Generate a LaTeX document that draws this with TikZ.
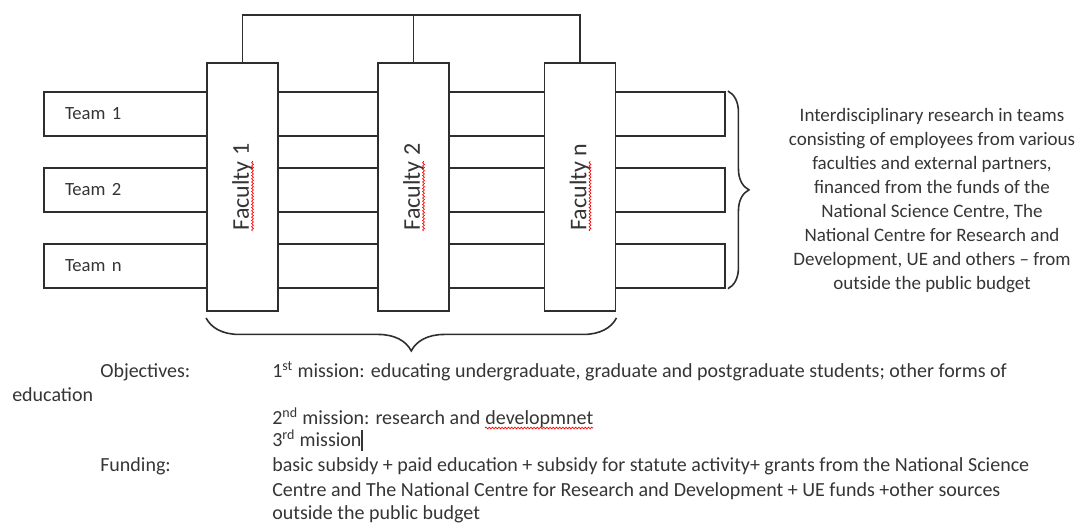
\documentclass[tikz,border=0pt]{standalone}
\usepackage{fontspec}
\setmainfont{Carlito}
\usepackage{xcolor}
\usepackage{tikz}
\usetikzlibrary{positioning, decorations.pathreplacing, decorations.pathmorphing}

\definecolor{inkline}{HTML}{2E2E2E}
\definecolor{inktext}{HTML}{353535}
\newlength\unitpx
\setlength\unitpx{0.75pt}

\begin{document}
\begin{tikzpicture}[
  x=0.75pt, y=-0.75pt,
  every node/.style={text=inktext, font=\fontsize{14}{18}\selectfont},
  teambox/.style={draw=inkline, line width=1.4pt, minimum width=681\unitpx, minimum height=44\unitpx, text width=639\unitpx, inner xsep=21\unitpx, align=left},
  facultybox/.style={draw=inkline, line width=1.4pt, fill=white, minimum width=71\unitpx, minimum height=248\unitpx, inner sep=0pt, font=\fontsize{18}{22}\selectfont},
  textline/.style={anchor=base west, inner sep=0pt, font=\fontsize{15}{18}\selectfont},
  link/.style={draw=inkline, line width=1.4pt},
  curly/.style={draw=inkline, line width=1.2pt, decorate, decoration={brace, amplitude=#1}},
  spellmark/.style={draw=red, line width=0.5pt, decorate, decoration={snake, amplitude=0.7pt, segment length=2.4pt}}
]
\useasboundingbox (0,0) rectangle (1087,522);

% teams
\node[teambox] (team1) at (384.5,114) {Team 1};
\node[teambox, below=30\unitpx of team1] (team2) {Team 2};
\node[teambox, below=30\unitpx of team2] (teamn) {Team n};

% faculties
\node[facultybox] (fac1) at (242.5,187) {\rotatebox{90}{Faculty 1}};
\node[facultybox] (fac2) at (413.5,187) {\rotatebox{90}{Faculty 2}};
\node[facultybox] (facn) at (580,187) {\rotatebox{90}{Faculty n}};
\foreach \f in {fac1, fac2, facn}
  \draw[spellmark] ([shift={(10,44)}]\f.center) -- ([shift={(10,-26)}]\f.center);

\coordinate (bar) at (413.5,15);
\draw[link] (fac1.north) |- (bar) -| (facn.north);
\draw[link] (fac2.north) -- (fac2.north |- bar);

% braces
\draw[curly=21\unitpx] ([xshift=2\unitpx]team1.north east) -- ([xshift=2\unitpx]teamn.south east);
\draw[curly=33\unitpx] ([yshift=-6\unitpx]facn.south east) -- ([yshift=-6\unitpx]fac1.south west);

\node[align=center, font=\fontsize{14.25}{18}\selectfont] (desc) at (932,201) {Interdisciplinary research in teams\\
consisting of employees from various\\
faculties and external partners,\\
financed from the funds of the\\
National Science Centre, The\\
National Centre for Research and\\
Development, UE and others -- from\\
outside the public budget};

% objectives and funding
\node[textline] (objlabel) at (100,377) {Objectives:};
\node[textline] (mission1) at (272,377) {1\textsuperscript{st} mission: educating undergraduate, graduate and postgraduate students; other forms of};
\node[textline] (educ) at (12,401) {education};
\node[textline] (mission2) at (272,424) {2\textsuperscript{nd} mission: research and};
\node[textline] (devword) at ([xshift=3.4pt]mission2.base east) {developmnet};
\draw[spellmark] ([yshift=-3pt]devword.base west) -- ([yshift=-3pt]devword.base east);
\node[textline] (mission3) at (272,446) {3\textsuperscript{rd} mission\rule[-0.25em]{0.8pt}{1.05em}};
\node[textline] (fundlabel) at (100,471) {Funding:};
\node[textline] (fund1) at (272,471) {basic subsidy + paid education + subsidy for statute activity+ grants from the National Science};
\node[textline] (fund2) at (272,496) {Centre and The National Centre for Research and Development + UE funds +other sources};
\node[textline] (fund3) at (272,519) {outside the public budget};

\end{tikzpicture}
\end{document}
